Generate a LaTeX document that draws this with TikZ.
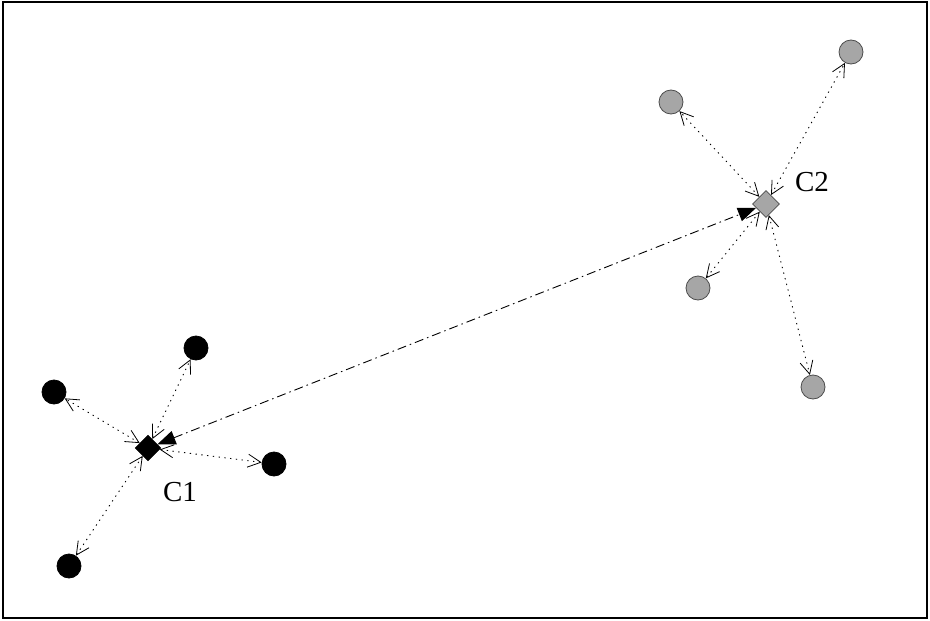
\documentclass[tikz,border=0pt]{standalone}
\usepackage{fontspec}
\setmainfont{Liberation Serif}
\usetikzlibrary{shapes.geometric,arrows.meta}
\definecolor{gr}{HTML}{A6A6A6}
\tikzset{
  leafb/.style={circle,fill=black,draw=black,line width=0.8pt,minimum size=24pt,inner sep=0pt},
  leafg/.style={circle,fill=gr,draw=black!70,line width=0.8pt,minimum size=24pt,inner sep=0pt},
  hubb/.style={diamond,fill=black,draw=black,minimum size=26pt,inner sep=0pt,aspect=1},
  hubg/.style={diamond,fill=gr,draw=black!70,line width=0.8pt,minimum size=27pt,inner sep=0pt,aspect=1},
  lnk/.style={line width=0.9pt,dash pattern=on 1.3pt off 4.5pt,
    {Straight Barb[length=13pt,width=13pt,line width=0.8pt]}-{Straight Barb[length=13pt,width=13pt,line width=0.8pt]}},
  main/.style={line width=0.9pt,dash pattern=on 9pt off 4pt on 1.5pt off 4pt,
    {Triangle[length=18pt,width=14pt]}-{Triangle[length=18pt,width=14pt]}},
  lab/.style={font=\fontsize{29}{32}\selectfont,inner sep=0pt}
}
\begin{document}
\begin{tikzpicture}[x=1pt,y=-1pt]
\useasboundingbox (0,0) rectangle (930,621);
\draw[line width=2pt] (3,2) rectangle (927,618);
% cluster 1
\node[hubb] (c1) at (148,448) {};
\node[leafb] (b1) at (196,348) {};
\node[leafb] (b2) at (54,392) {};
\node[leafb] (b3) at (274,464) {};
\node[leafb] (b4) at (69,566) {};
\node[lab] (l1) at (180,492) {C1};
% cluster 2
\node[hubg] (c2) at (766,204) {};
\node[leafg] (g1) at (851,52) {};
\node[leafg] (g2) at (671,102) {};
\node[leafg] (g3) at (698,288) {};
\node[leafg] (g4) at (813,387) {};
\node[lab] (l2) at (812,182) {C2};
% links
\foreach \n in {b1,b2,b3,b4} \draw[lnk] (c1) -- (\n);
\foreach \n in {g1,g2,g3,g4} \draw[lnk] (c2) -- (\n);
\draw[main] (c1) -- (c2);
\end{tikzpicture}
\end{document}
